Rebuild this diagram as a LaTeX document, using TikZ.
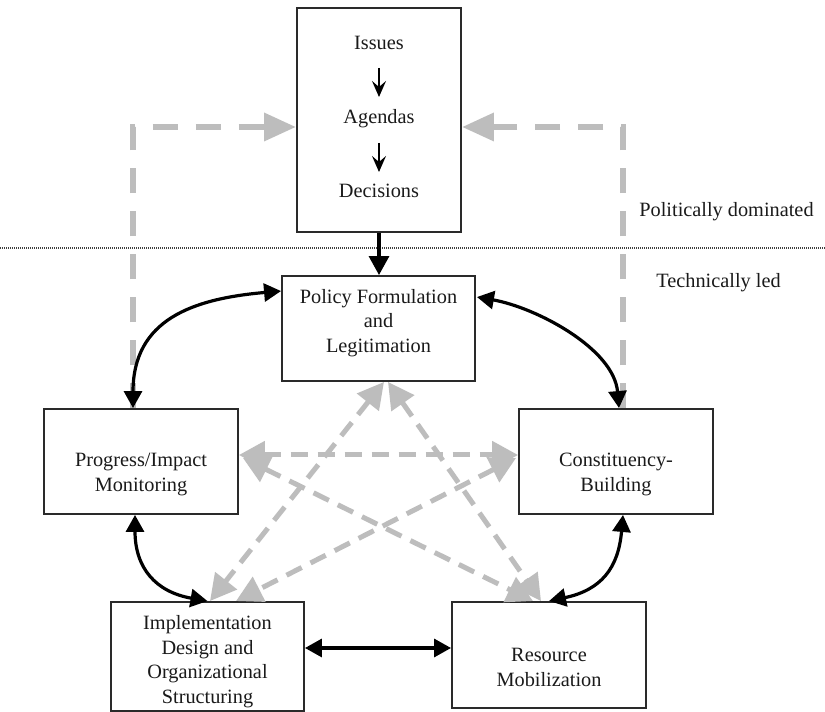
\documentclass[tikz,border=0pt]{standalone}
\usepackage{fontspec}
\setmainfont{Liberation Serif}
\usetikzlibrary{arrows.meta,calc}
\definecolor{lgray}{HTML}{BDBDBD}
\definecolor{ink}{HTML}{1A1A1A}
\definecolor{boxline}{HTML}{2A2A2A}
\begin{document}
\begin{tikzpicture}[x=1pt,y=1pt,
  box/.style={draw=boxline, line width=1.9pt, inner sep=0pt},
  txt/.style={text=ink, align=center, inner sep=0pt, font=\fontsize{20.3}{24.5}\selectfont},
  blk/.style={draw=black, line width=3.2pt, {Triangle[length=17pt,width=18pt]}-{Triangle[length=17pt,width=18pt]}},
  gry/.style={draw=lgray, line width=5pt, dash pattern=on 17pt off 10pt, {Triangle[length=26pt,width=27pt]}-{Triangle[length=26pt,width=27pt]}},
  gryout/.style={draw=lgray, line width=6.5pt, dash pattern=on 25pt off 18pt, -{Triangle[length=32pt,width=27pt]}},
  smallarr/.style={draw=black, line width=1.4pt, -{Stealth[length=16pt,width=14pt,inset=6pt]}}
]
\useasboundingbox[fill=white] (0,0) rectangle (825,712);

% dotted separator
\coordinate (dl) at (0,464);
\coordinate (dr) at (825,464);
\draw[dash pattern=on 1pt off 1pt, line width=1.3pt, draw=black!75] (dl) -- (dr);

% top box
\node[box, minimum width=164pt, minimum height=224pt] (top) at (379,592) {};
\node[txt, anchor=base] (iss) at (379,662.3) {Issues};
\node[txt, anchor=base] (age) at (379,588.3) {Agendas};
\node[txt, anchor=base] (dec) at (379,514.3) {Decisions};
\draw[smallarr] ($(iss.base)+(0,-18.3)$) -- ($(age.base)+(0,26.7)$);
\draw[smallarr] ($(age.base)+(0,-19.3)$) -- ($(dec.base)+(0,25.7)$);

% main boxes
\node[box, minimum width=193pt, minimum height=105pt] (pol) at (378.5,383.5) {};
\node[txt] (polT) at (378.5,389) {Policy Formulation\\and\\Legitimation};
\node[box, minimum width=194pt, minimum height=105pt] (prog) at (141,250.5) {};
\node[txt] (progT) at (141,237.5) {Progress/Impact\\Monitoring};
\node[box, minimum width=194pt, minimum height=105pt] (con) at (616,250.5) {};
\node[txt] (conT) at (616,237.5) {Constituency-\\Building};
\node[box, minimum width=193pt, minimum height=109pt] (impl) at (207.5,55.5) {};
\node[txt] (implT) at (207.5,50.5) {Implementation\\Design and\\Organizational\\Structuring};
\node[box, minimum width=194pt, minimum height=106pt] (res) at (549,57) {};
\node[txt] (resT) at (549,44.5) {Resource\\Mobilization};

% side labels
\node[txt, anchor=base] (pold) at (726.5,495.3) {Politically dominated};
\node[txt, anchor=base] (tech) at (718.5,424.3) {Technically led};

% grey outer feedback arrows
\draw[gryout] ([xshift=-8pt]prog.north) |- ([yshift=-7pt]top.west);
\draw[gryout] ([xshift=7pt]con.north) |- ([yshift=-7pt]top.east);

% grey inner pentagram
\draw[gry] ([yshift=6.5pt]prog.east) -- ([yshift=6.5pt]con.west);
\draw[gry] ([xshift=5.5pt]pol.south) -- ([xshift=2.5pt]impl.north);
\draw[gry] ([xshift=9.5pt]pol.south) -- ([xshift=-8pt]res.north);
\draw[gry] ([xshift=4pt,yshift=3.5pt]prog.east) -- ([xshift=-16pt]res.north);
\draw[gry] ([xshift=-2pt,yshift=3.5pt]con.west) -- ([xshift=28.5pt]impl.north);

% black arrows
\draw[draw=black, line width=3.2pt, -{Triangle[length=19pt,width=20pt]}] (top.south) -- (top.south |- pol.north);
\draw[blk] ([yshift=-16pt]pol.north west) to[out=185,in=90,looseness=1.2] ([xshift=-8pt]prog.north);
\draw[blk] ([xshift=1pt,yshift=-22pt]pol.north east) to[out=-10,in=95,looseness=0.85] ([xshift=3pt]con.north);
\draw[blk] ([xshift=7pt]con.south) to[out=-95,in=12,looseness=1.2] (res.north);
\draw[blk] ([xshift=-6pt]prog.south) to[out=-90,in=170,looseness=1.2] (impl.north);
\draw[blk] ([yshift=8.5pt]impl.east) -- ([yshift=8.5pt]impl.east -| res.west);
\end{tikzpicture}
\end{document}
